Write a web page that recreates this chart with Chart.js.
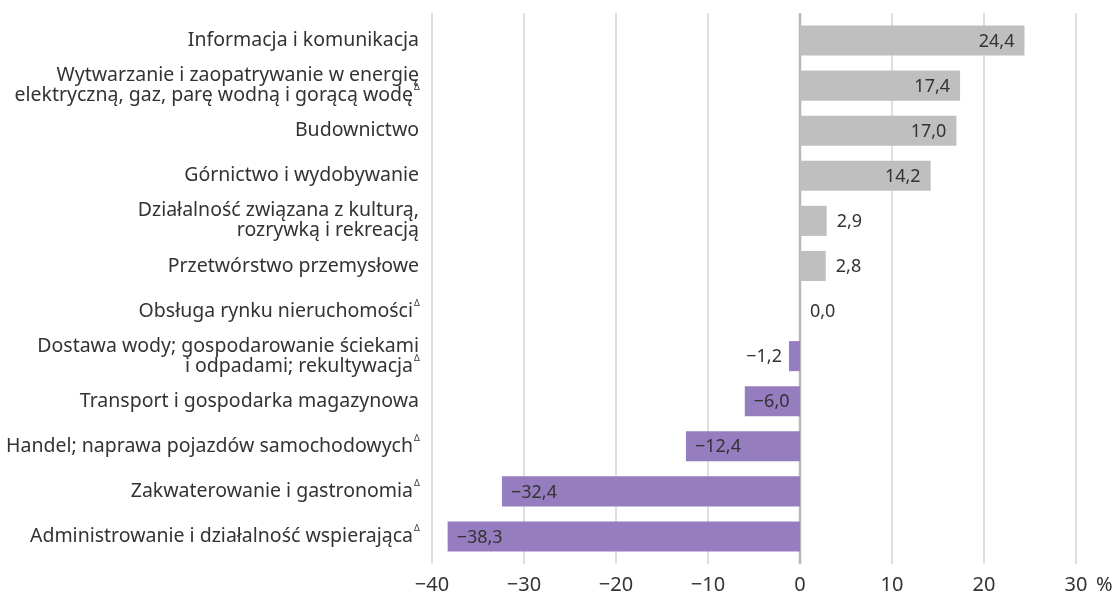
<!DOCTYPE html>
<html>
<head>
<meta charset="utf-8">
<script src="https://cdn.jsdelivr.net/npm/chart.js@4"></script>
<style>
  body { margin: 0; background: #fff; }
  #wrap { width: 1115px; height: 601px; }
</style>
</head>
<body>
<div id="wrap"><canvas id="chart"></canvas></div>
<script>
const categories = [
  ['Informacja i komunikacja'],
  ['Wytwarzanie i zaopatrywanie w energię', 'elektryczną, gaz, parę wodną i gorącą wodę'],
  ['Budownictwo'],
  ['Górnictwo i wydobywanie'],
  ['Działalność związana z kulturą,', 'rozrywką i rekreacją'],
  ['Przetwórstwo przemysłowe'],
  ['Obsługa rynku nieruchomości'],
  ['Dostawa wody; gospodarowanie ściekami', 'i odpadami; rekultywacja'],
  ['Transport i gospodarka magazynowa'],
  ['Handel; naprawa pojazdów samochodowych'],
  ['Zakwaterowanie i gastronomia'],
  ['Administrowanie i działalność wspierająca']
];
const deltaMarks = [false, true, false, false, false, false, true, true, false, true, true, true];
const values = [24.4, 17.4, 17.0, 14.2, 2.9, 2.8, 0.0, -1.2, -6.0, -12.4, -32.4, -38.3];
const xTicks = [-40, -30, -20, -10, 0, 10, 20, 30];

const FONT = '"Noto Sans", sans-serif';
const GRAY = '#bfbfbf';
const PURPLE = '#957dbf';
const TEXT = '#333333';

function fmt(v) {
  return v.toFixed(1).replace('.', ',').replace('-', '\u2212');
}

// vertical grid lines (slightly longer than the plot) + darker zero line
const gridPlugin = {
  id: 'grid',
  beforeDatasetsDraw(chart) {
    const ctx = chart.ctx;
    const x = chart.scales.x;
    const area = chart.chartArea;
    ctx.save();
    xTicks.forEach(t => {
      const px = Math.round(x.getPixelForValue(t));
      ctx.strokeStyle = t === 0 ? '#b8b8b8' : '#d4d4d4';
      ctx.lineWidth = t === 0 ? 2.5 : 1.5;
      ctx.beginPath();
      ctx.moveTo(px, area.top - 5);
      ctx.lineTo(px, area.bottom + 5);
      ctx.stroke();
    });
    ctx.restore();
  }
};

// category labels on the left, with a small superscript delta
const labelPlugin = {
  id: 'catLabels',
  afterDraw(chart) {
    const ctx = chart.ctx;
    const y = chart.scales.y;
    const right = chart.chartArea.left - 13;
    ctx.save();
    ctx.fillStyle = TEXT;
    ctx.textAlign = 'right';
    ctx.textBaseline = 'middle';
    categories.forEach((lines, i) => {
      const cy = y.getPixelForValue(i);
      const lh = 20;
      const y0 = cy - (lines.length - 1) * lh / 2;
      lines.forEach((line, j) => {
        const ly = y0 + j * lh;
        const last = j === lines.length - 1;
        ctx.font = '19.5px ' + FONT;
        if (last && deltaMarks[i]) {
          ctx.fillText(line, right - 6, ly);
          ctx.font = '9px ' + FONT;
          ctx.textAlign = 'left';
          ctx.fillText('\u0394', right - 5, ly - 8);
          ctx.textAlign = 'right';
        } else {
          ctx.fillText(line, right, ly);
        }
      });
    });
    // percent sign after the last tick
    ctx.font = '20px ' + FONT;
    ctx.textAlign = 'left';
    ctx.fillText('%', chart.scales.x.getPixelForValue(30) + 20, 585);
    ctx.restore();
  }
};

// value labels: inside long bars, outside short ones
const valuePlugin = {
  id: 'values',
  afterDatasetsDraw(chart) {
    const ctx = chart.ctx;
    const meta = chart.getDatasetMeta(0);
    ctx.save();
    ctx.font = '18px ' + FONT;
    ctx.fillStyle = TEXT;
    ctx.textBaseline = 'middle';
    meta.data.forEach((bar, i) => {
      const v = values[i];
      const inside = Math.abs(v) >= 5;
      let x;
      if (v >= 0) {
        ctx.textAlign = inside ? 'right' : 'left';
        x = inside ? bar.x - 10 : bar.x + 10;
      } else {
        ctx.textAlign = inside ? 'left' : 'right';
        x = inside ? bar.x + 9 : bar.x - 7;
      }
      ctx.fillText(fmt(v), x, bar.y + 1);
    });
    ctx.restore();
  }
};

new Chart(document.getElementById('chart'), {
  type: 'bar',
  data: {
    labels: categories.map(c => c.join(' ')),
    datasets: [{
      data: values,
      backgroundColor: values.map(v => v >= 0 ? GRAY : PURPLE),
      barPercentage: 0.667,
      categoryPercentage: 1
    }]
  },
  options: {
    indexAxis: 'y',
    responsive: true,
    maintainAspectRatio: false,
    animation: false,
    layout: { padding: { left: 432, right: 39, top: 18, bottom: 0 } },
    plugins: {
      legend: { display: false },
      tooltip: { enabled: false }
    },
    scales: {
      x: {
        min: -40,
        max: 30,
        border: { display: false },
        grid: { display: false, drawTicks: false },
        afterBuildTicks: axis => { axis.ticks = xTicks.map(v => ({ value: v })); },
        afterFit: axis => { axis.height = 42; },
        ticks: {
          padding: 14,
          color: TEXT,
          font: { family: FONT, size: 20 },
          callback: v => String(v).replace('-', '\u2212')
        }
      },
      y: {
        display: false
      }
    }
  },
  plugins: [gridPlugin, labelPlugin, valuePlugin]
});
</script>
</body>
</html>
